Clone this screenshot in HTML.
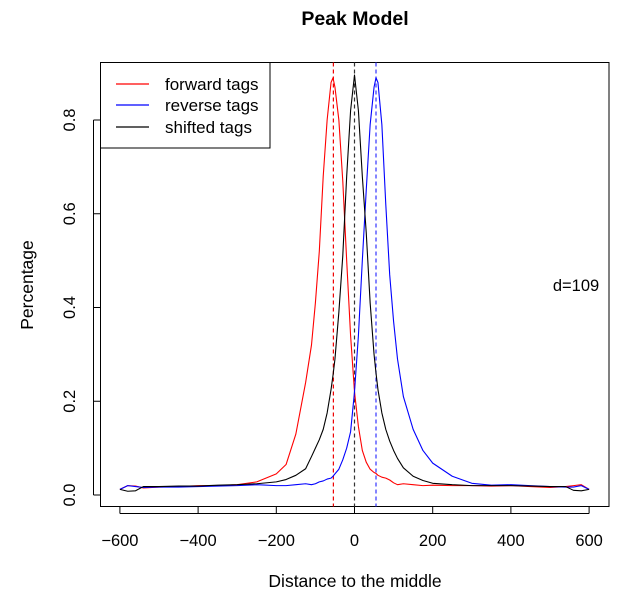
<!DOCTYPE html>
<html><head><meta charset="utf-8"><style>body{margin:0;background:#fff}svg{display:block;font-family:"Liberation Sans",Arial,sans-serif}</style></head>
<body>
<svg id="chart" width="632" height="595" viewBox="0 0 632 595" xmlns="http://www.w3.org/2000/svg">
<text x="355" y="25" text-anchor="middle" font-size="19.5" font-weight="bold">Peak Model</text>
<text x="355" y="587" text-anchor="middle" font-size="17.5">Distance to the middle</text>
<text x="33" y="285" text-anchor="middle" font-size="17.5" transform="rotate(-90 33 285)">Percentage</text>
<text x="576" y="291" text-anchor="middle" font-size="16.5">d=109</text>
<g id="plot"></g>
</svg>
<script>
const distances=[-600,-580,-560,-540,-500,-450,-400,-350,-300,-250,-200,-175,-150,-125,-110,-100,-90,-80,-70,-60,-55,-50,-40,-30,-20,-10,0,10,20,30,40,50,55,60,70,80,90,100,110,125,150,175,200,250,300,350,400,450,500,540,560,580,600];
const forwardTags=[.012,.02,.019,.015,.017,.018,.02,.02,.022,.028,.045,.065,.13,.24,.32,.41,.52,.68,.8,.88,.89,.87,.8,.67,.5,.34,.22,.146,.095,.07,.055,.048,.046,.042,.038,.036,.032,.026,.022,.024,.022,.02,.021,.02,.02,.019,.02,.018,.016,.018,.02,.022,.012];
const reverseTags=[.012,.02,.018,.016,.017,.017,.018,.019,.02,.022,.02,.02,.022,.024,.022,.024,.028,.03,.034,.036,.04,.045,.055,.075,.1,.135,.22,.34,.5,.65,.79,.87,.89,.88,.79,.62,.47,.37,.29,.21,.14,.095,.068,.04,.025,.021,.022,.02,.018,.017,.017,.02,.012];
const shiftedTags=[.012,.008,.009,.018,.018,.019,.019,.021,.022,.024,.028,.033,.042,.056,.082,.1,.118,.14,.175,.225,.255,.29,.39,.51,.68,.82,.896,.82,.68,.56,.41,.3,.26,.225,.175,.14,.115,.095,.078,.058,.04,.031,.025,.022,.02,.02,.02,.019,.018,.018,.01,.009,.012];
const peakPositions=[-54,0,55];
const xTicks=[-600,-400,-200,0,200,400,600];
const yTicks=[0,0.2,0.4,0.6,0.8];
const yTickLabels=["0.0","0.2","0.4","0.6","0.8"];

const NS="http://www.w3.org/2000/svg";
const g=document.getElementById('plot');
const L=100.5,R=609,T=62.5,B=506.5;
const xs=v=>354.5+v*0.391;
const ys=v=>495-v*468.75;
function mk(tag,attrs){const e=document.createElementNS(NS,tag);for(const k in attrs)e.setAttribute(k,attrs[k]);g.appendChild(e);return e;}

xTicks.forEach(t=>{
  const tk=mk('line',{x1:xs(t),x2:xs(t),y1:B,y2:B+7,stroke:'#000'});
  
  
  const tx=mk('text',{x:xs(t),y:546,'text-anchor':'middle','font-size':16.5});
  tx.textContent=(t<0?'\u2212'+(-t):t);
  
  
});
const xa=mk('line',{x1:xs(-600),x2:xs(600),y1:B+7,y2:B+7,stroke:'#000'});


yTicks.forEach((t,i)=>{
  const tk=mk('line',{x1:L-7,x2:L,y1:ys(t),y2:ys(t),stroke:'#000'});
  
  
  const tx=mk('text',{x:75,y:ys(t),'text-anchor':'middle','font-size':16.5,transform:`rotate(-90 75 ${ys(t)})`});
  tx.textContent=yTickLabels[i];
  
  
});
const ya=mk('line',{x1:L-7,x2:L-7,y1:ys(0),y2:ys(0.8),stroke:'#000'});


const box=mk('rect',{x:L,y:T,width:R-L,height:B-T,fill:'none',stroke:'#000'});



const dashCols=['#e00','#333','#33f'];
peakPositions.forEach((p,i)=>{
  const d=mk('line',{x1:xs(p),x2:xs(p),y1:T,y2:B,stroke:dashCols[i],'stroke-dasharray':'4 3','stroke-width':1.2});
  
  
});
function series(vals,col,name){
  const p=mk('polyline',{points:vals.map((v,i)=>xs(distances[i])+','+ys(v)).join(' '),fill:'none',stroke:col,'stroke-width':1.1,'stroke-linejoin':'round'});
  
  
}
series(forwardTags,'#f00','forward-tags-line');
series(reverseTags,'#00f','reverse-tags-line');
series(shiftedTags,'#000','shifted-tags-line');

const lg=mk('rect',{x:L,y:T,width:169.5,height:85.5,fill:'#fff',stroke:'#000'});


const legendItems=[['forward tags','rgb(255,0,0)',84],['reverse tags','rgb(0,0,255)',105],['shifted tags','rgb(0,0,0)',127]];
legendItems.forEach(item=>{
  const l=document.createElementNS(NS,'line');
  l.setAttribute('x1',116);l.setAttribute('x2',149);
  l.setAttribute('y1',item[2]);l.setAttribute('y2',item[2]);
  l.style.stroke=item[1];l.style.strokeWidth='1.2';
  
  
  g.appendChild(l);
  const tx=mk('text',{x:165,y:item[2]+6,'font-size':17});
  tx.textContent=item[0];
  
  
});
</script>
</body></html>
